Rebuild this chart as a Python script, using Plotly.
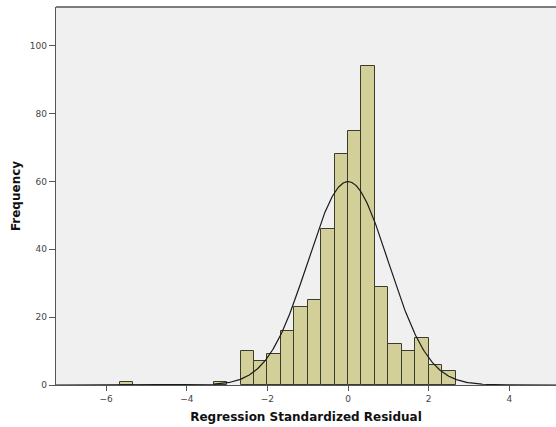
import numpy as np
import plotly.graph_objects as go

# Histogram data (bin width = 1/3)
bin_lower = [-17/3, -10/3, -8/3, -7/3, -2, -5/3, -4/3, -1, -2/3, -1/3,
             0, 1/3, 2/3, 1, 4/3, 5/3, 2, 7/3]
counts = [1, 1, 10, 7, 9, 16, 23, 25, 46, 68, 75, 94, 29, 12, 10, 14, 6, 4]
bin_width = 1/3

# Normal curve parameters
n_obs = 450
mean = 0.0
std_dev = 0.998

x_ticks = [-6, -4, -2, 0, 2, 4]
y_ticks = [0, 20, 40, 60, 80, 100]

centers = [b + bin_width / 2 for b in bin_lower]

xc = np.linspace(-7.3, 5.3, 600)
yc = n_obs * bin_width / (std_dev * np.sqrt(2 * np.pi)) * np.exp(-0.5 * ((xc - mean) / std_dev) ** 2)

fig = go.Figure()
fig.add_trace(go.Bar(
    x=centers, y=counts, width=bin_width,
    marker=dict(color="#d3cf98", line=dict(color="#3b3b2e", width=1)),
    hoverinfo="skip",
))
fig.add_trace(go.Scatter(
    x=xc, y=yc, mode="lines",
    line=dict(color="#1a1a1a", width=1.2),
    hoverinfo="skip",
))

axis_color = "#555555"
fig.update_layout(
    width=556, height=427,
    margin=dict(l=56, r=0, t=7, b=42),
    paper_bgcolor="white",
    plot_bgcolor="#f0f0f0",
    showlegend=False,
    bargap=0,
    font=dict(family="DejaVu Sans", color="#333333"),
    xaxis=dict(
        range=[-7.245, 5.16], tickvals=x_ticks,
        ticktext=[str(v) if v >= 0 else "\u2212" + str(-v) for v in x_ticks],
        showgrid=False, zeroline=False,
        showline=True, linecolor=axis_color, linewidth=1.3,
        ticks="outside", ticklen=5, tickcolor=axis_color, tickwidth=1.3,
        tickfont=dict(size=9, color="#444444"),
        title=dict(text="<b>Regression Standardized Residual</b>",
                   font=dict(size=12, color="#111111"), standoff=9),
    ),
    yaxis=dict(
        range=[0, 111.4], tickvals=y_ticks,
        showgrid=False, zeroline=False,
        showline=True, linecolor=axis_color, linewidth=1.3,
        ticks="outside", ticklen=6, tickcolor=axis_color, tickwidth=1.3,
        tickfont=dict(size=9, color="#444444"),
        title=dict(text="<b>Frequency</b>",
                   font=dict(size=12, color="#111111"), standoff=6),
    ),
    shapes=[dict(type="line", xref="paper", yref="paper", x0=0, x1=1, y0=1, y1=1,
                 line=dict(color=axis_color, width=1.3))],
)

fig.write_html("out.html")
